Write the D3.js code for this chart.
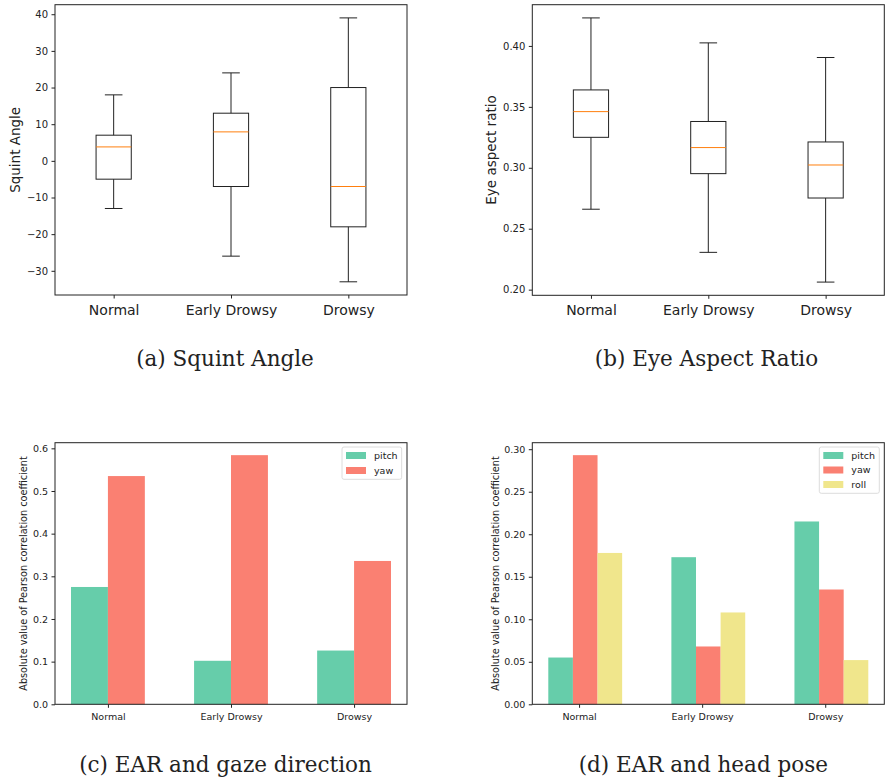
<!DOCTYPE html>
<html>
<head>
<meta charset="utf-8">
<script src="https://cdn.jsdelivr.net/npm/d3@7"></script>
<style>
  html, body { margin: 0; padding: 0; background: #fff; }
  svg { display: block; }
  text { font-family: "DejaVu Sans", sans-serif; fill: #222; }
  .caption { font-family: "DejaVu Serif", serif; }
</style>
</head>
<body>
<svg id="chart" width="887" height="781"></svg>
<script>
// ---------- data ----------
const categories = ["Normal", "Early Drowsy", "Drowsy"];

// (a) Squint angle box plot statistics
const squintLow    = [-13, -26, -33];
const squintQ1     = [-5, -7, -18];
const squintMedian = [3.8, 7.9, -7];
const squintQ3     = [7, 13, 20];
const squintHigh   = [18, 24, 39];
const squintTicks  = [-30, -20, -10, 0, 10, 20, 30, 40];

// (b) Eye aspect ratio box plot statistics
const earLow    = [0.266, 0.2306, 0.2062];
const earQ1     = [0.325, 0.2952, 0.2752];
const earMedian = [0.3461, 0.3166, 0.3023];
const earQ3     = [0.3639, 0.338, 0.3212];
const earHigh   = [0.423, 0.4025, 0.3905];
const earTicks  = [0.20, 0.25, 0.30, 0.35, 0.40];

// (c) EAR and gaze direction
const gazeSeries = ["pitch", "yaw"];
const gazePitch = [0.275, 0.102, 0.126];
const gazeYaw   = [0.535, 0.584, 0.336];
const gazeTicks = [0.0, 0.1, 0.2, 0.3, 0.4, 0.5, 0.6];

// (d) EAR and head pose
const poseSeries = ["pitch", "yaw", "roll"];
const posePitch = [0.055, 0.173, 0.215];
const poseYaw   = [0.293, 0.068, 0.135];
const poseRoll  = [0.178, 0.108, 0.052];
const poseTicks = [0.00, 0.05, 0.10, 0.15, 0.20, 0.25, 0.30];

const captions = ["(a) Squint Angle", "(b) Eye Aspect Ratio", "(c) EAR and gaze direction", "(d) EAR and head pose"];

const seriesColors = { pitch: "#66cdaa", yaw: "#fa8072", roll: "#f0e68c" };

// ---------- drawing ----------
const svg = d3.select("#chart");
svg.append("rect").attr("width", 887).attr("height", 781).attr("fill", "#fff");

const minus = s => s.replace("-", "\u2212");

function styleAxis(g) {
  g.select(".domain").remove();
  g.selectAll(".tick line").attr("stroke", "#222").attr("stroke-width", 1);
  g.selectAll(".tick text").attr("fill", "#222").attr("font-family", "DejaVu Sans");
}

function frame(x0, x1, y0, y1) {
  svg.append("rect")
    .attr("x", x0).attr("y", y0).attr("width", x1 - x0).attr("height", y1 - y0)
    .attr("fill", "none").attr("stroke", "#222").attr("stroke-width", 1);
}

function boxPanel(opt) {
  const { left, right, top, bottom, low, q1, med, q3, high, ticks, fmt, ylabel, ylabelX, tickFont } = opt;
  const mn = d3.min(low), mx = d3.max(high), r = mx - mn;
  const x = d3.scaleLinear().domain([0.5, 3.5]).range([left, right]);
  const y = d3.scaleLinear().domain([mn - 0.05 * r, mx + 0.05 * r]).range([bottom, top]);

  const gy = svg.append("g").attr("transform", `translate(${left},0)`)
    .call(d3.axisLeft(y).tickValues(ticks).tickFormat(fmt).tickSize(3.5).tickPadding(3.5));
  styleAxis(gy);
  gy.selectAll(".tick text").attr("font-size", tickFont);

  const gx = svg.append("g").attr("transform", `translate(0,${bottom})`)
    .call(d3.axisBottom(x).tickValues([1, 2, 3]).tickFormat(i => categories[i - 1]).tickSize(3.5));
  styleAxis(gx);
  gx.selectAll(".tick text").attr("font-size", 14).attr("y", 20).attr("dy", 0);

  const boxW = 0.3, capW = 0.15;
  const g = svg.append("g");
  categories.forEach((c, i) => {
    const p = i + 1;
    // whiskers
    g.append("line").attr("x1", x(p)).attr("x2", x(p)).attr("y1", y(high[i])).attr("y2", y(q3[i])).attr("stroke", "#222");
    g.append("line").attr("x1", x(p)).attr("x2", x(p)).attr("y1", y(q1[i])).attr("y2", y(low[i])).attr("stroke", "#222");
    // caps
    g.append("line").attr("x1", x(p - capW / 2)).attr("x2", x(p + capW / 2)).attr("y1", y(high[i])).attr("y2", y(high[i])).attr("stroke", "#222");
    g.append("line").attr("x1", x(p - capW / 2)).attr("x2", x(p + capW / 2)).attr("y1", y(low[i])).attr("y2", y(low[i])).attr("stroke", "#222");
    // box
    g.append("rect").attr("x", x(p - boxW / 2)).attr("width", x(p + boxW / 2) - x(p - boxW / 2))
      .attr("y", y(q3[i])).attr("height", y(q1[i]) - y(q3[i]))
      .attr("fill", "none").attr("stroke", "#222");
    // median
    g.append("line").attr("x1", x(p - boxW / 2)).attr("x2", x(p + boxW / 2)).attr("y1", y(med[i])).attr("y2", y(med[i]))
      .attr("stroke", "#ff7f0e");
  });

  frame(left, right, top, bottom);

  svg.append("text").attr("transform", `translate(${ylabelX},${(top + bottom) / 2}) rotate(-90)`)
    .attr("text-anchor", "middle").attr("font-size", 13.5).text(ylabel);
}

function barPanel(opt) {
  const { left, right, top, bottom, seriesNames, values, offsets, width, ticks, fmt, ylabelX, legend } = opt;
  const lo = d3.min(offsets) - width / 2;
  const hi = (categories.length - 1) + d3.max(offsets) + width / 2;
  const span = hi - lo;
  const x = d3.scaleLinear().domain([lo - 0.05 * span, hi + 0.05 * span]).range([left, right]);
  const mx = d3.max(values.flat());
  const y = d3.scaleLinear().domain([0, mx * 1.05]).range([bottom, top]);

  const g = svg.append("g");
  seriesNames.forEach((s, si) => {
    g.selectAll(null).data(values[si]).enter().append("rect")
      .attr("x", (d, i) => x(i + offsets[si] - width / 2))
      .attr("width", (d, i) => x(i + offsets[si] + width / 2) - x(i + offsets[si] - width / 2))
      .attr("y", d => y(d))
      .attr("height", d => y(0) - y(d))
      .attr("fill", seriesColors[s]);
  });

  const gy = svg.append("g").attr("transform", `translate(${left},0)`)
    .call(d3.axisLeft(y).tickValues(ticks).tickFormat(fmt).tickSize(3.5).tickPadding(3.5));
  styleAxis(gy);
  gy.selectAll(".tick text").attr("font-size", 9.5);

  const gx = svg.append("g").attr("transform", `translate(0,${bottom})`)
    .call(d3.axisBottom(x).tickValues([0, 1, 2]).tickFormat(i => categories[i]).tickSize(3.5));
  styleAxis(gx);
  gx.selectAll(".tick text").attr("font-size", 9.5).attr("y", 15.7).attr("dy", 0);

  frame(left, right, top, bottom);

  svg.append("text").attr("transform", `translate(${ylabelX},${(top + bottom) / 2}) rotate(-90)`)
    .attr("text-anchor", "middle").attr("font-size", 9.7)
    .text("Absolute value of Pearson correlation coefficient");

  // legend
  const lg = svg.append("g");
  lg.append("rect").attr("x", legend.x0).attr("y", legend.y0)
    .attr("width", legend.x1 - legend.x0).attr("height", legend.y1 - legend.y0)
    .attr("rx", 2).attr("fill", "#fff").attr("fill-opacity", 0.8)
    .attr("stroke", "#dcdcdc").attr("stroke-width", 1);
  seriesNames.forEach((s, si) => {
    const cy = legend.cy0 + si * legend.dy;
    lg.append("rect").attr("x", legend.x0 + 4).attr("y", cy - 3.5).attr("width", 20).attr("height", 7)
      .attr("fill", seriesColors[s]);
    lg.append("text").attr("x", legend.x0 + 32).attr("y", cy).attr("dy", "0.35em")
      .attr("font-size", 9.5).text(s);
  });
}

boxPanel({
  left: 55, right: 407, top: 4.7, bottom: 295,
  low: squintLow, q1: squintQ1, med: squintMedian, q3: squintQ3, high: squintHigh,
  ticks: squintTicks, fmt: d => minus(String(d)), ylabel: "Squint Angle", ylabelX: 19.5, tickFont: 10
});

boxPanel({
  left: 532.3, right: 884.3, top: 4.7, bottom: 295.3,
  low: earLow, q1: earQ1, med: earMedian, q3: earQ3, high: earHigh,
  ticks: earTicks, fmt: d3.format(".2f"), ylabel: "Eye aspect ratio", ylabelX: 495.5, tickFont: 10
});

barPanel({
  left: 55, right: 407, top: 442.7, bottom: 704.3,
  seriesNames: gazeSeries, values: [gazePitch, gazeYaw], offsets: [-0.15, 0.15], width: 0.3,
  ticks: gazeTicks, fmt: d3.format(".1f"), ylabelX: 27,
  legend: { x0: 342, x1: 401.7, y0: 447, y1: 479.3, cy0: 455.5, dy: 15 }
});

barPanel({
  left: 532.3, right: 884.3, top: 442.7, bottom: 704.3,
  seriesNames: poseSeries, values: [posePitch, poseYaw, poseRoll], offsets: [-0.15, 0.05, 0.25], width: 0.2,
  ticks: poseTicks, fmt: d3.format(".2f"), ylabelX: 499,
  legend: { x0: 819.3, x1: 879.3, y0: 447, y1: 493.3, cy0: 455.5, dy: 14.5 }
});

// captions
const capPos = [[225, 366], [706.5, 366], [225.5, 772], [703.3, 772]];
captions.forEach((c, i) => {
  svg.append("text").attr("class", "caption")
    .attr("x", capPos[i][0]).attr("y", capPos[i][1])
    .attr("text-anchor", "middle").attr("font-size", 21.5)
    .attr("font-family", "DejaVu Serif").text(c);
});
</script>
</body>
</html>
